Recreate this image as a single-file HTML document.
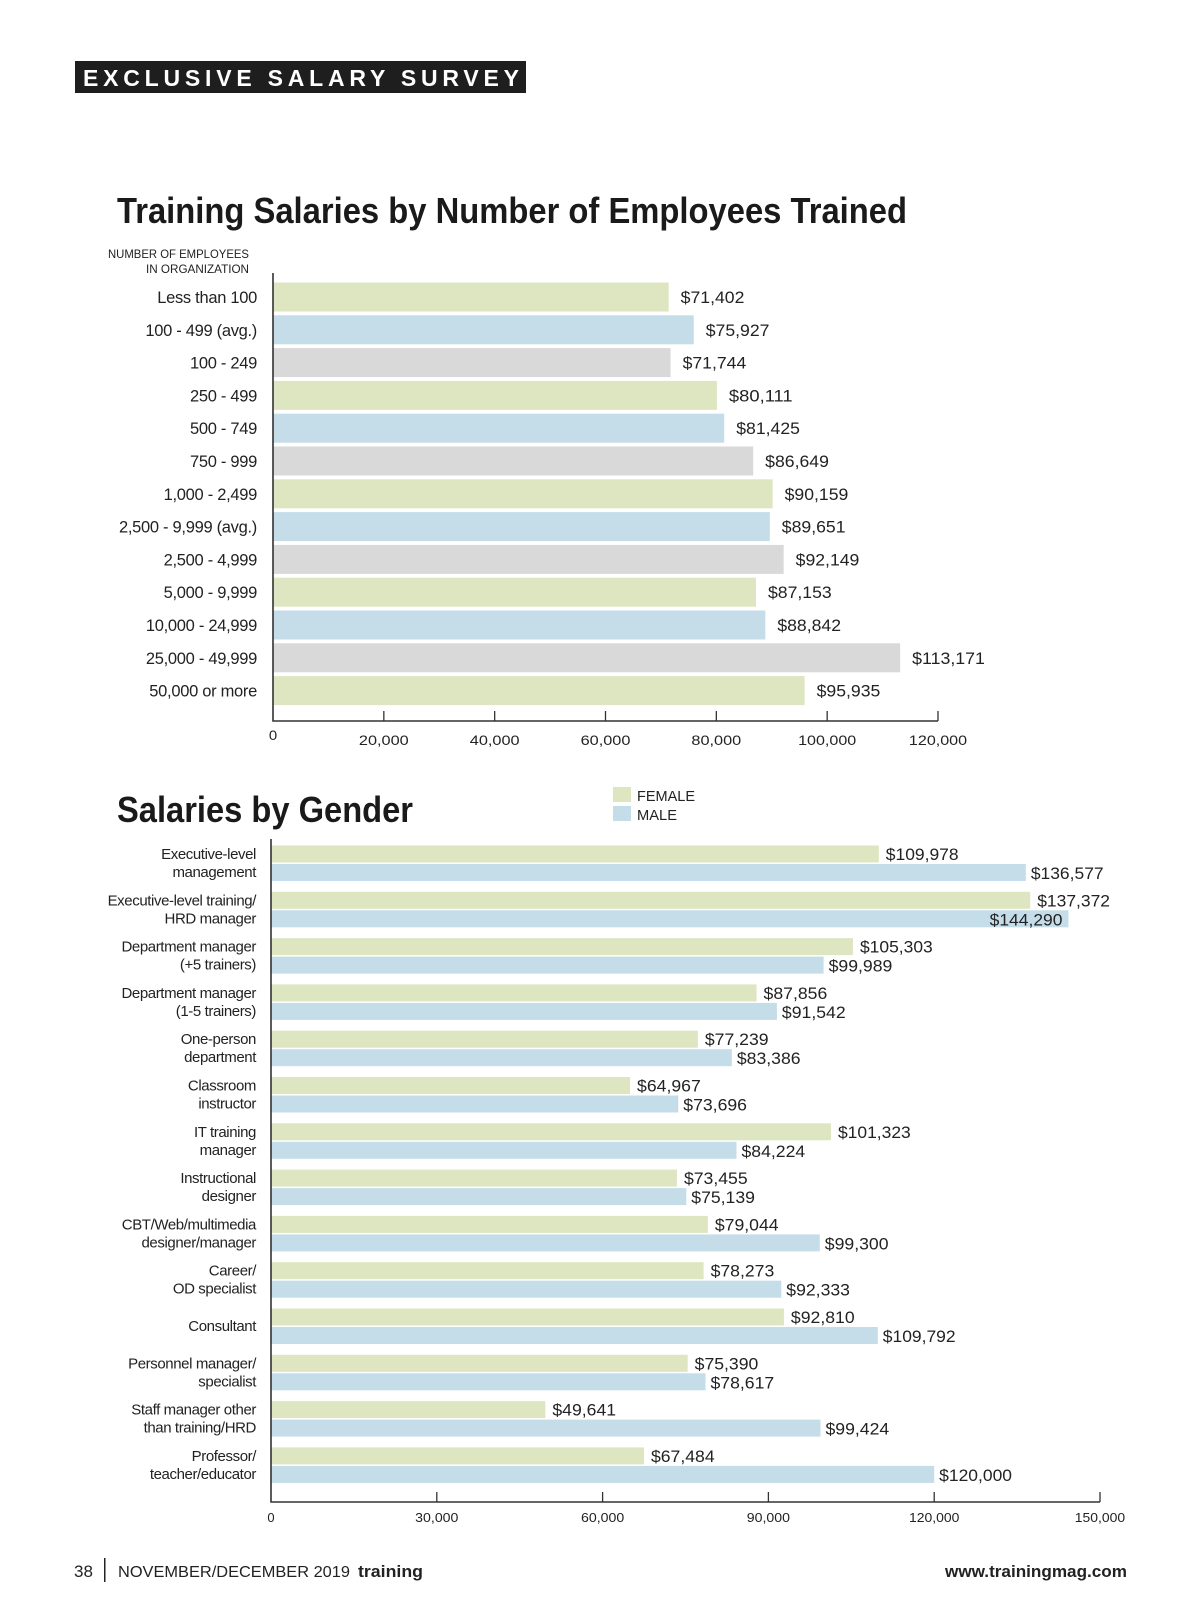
<!DOCTYPE html>
<html><head><meta charset="utf-8"><style>
html,body{margin:0;padding:0;background:#fff;}
svg{display:block;font-family:"Liberation Sans",sans-serif;}
</style></head><body>
<svg id="s" width="1200" height="1613" viewBox="0 0 1200 1613" xmlns="http://www.w3.org/2000/svg">
<rect x="75" y="61" width="451" height="32" fill="#1e1e1e"/>
<text x="83" y="86" fill="#fff" font-size="23" font-weight="bold" textLength="436" lengthAdjust="spacing">EXCLUSIVE SALARY SURVEY</text>
<text x="117" y="223" fill="#1a1a1a" font-size="36" font-weight="bold" textLength="790" lengthAdjust="spacingAndGlyphs">Training Salaries by Number of Employees Trained</text>
<text x="249" y="258" text-anchor="end" fill="#222" font-size="12" textLength="141" lengthAdjust="spacingAndGlyphs">NUMBER OF EMPLOYEES</text>
<text x="249" y="273" text-anchor="end" fill="#222" font-size="12" textLength="103" lengthAdjust="spacingAndGlyphs">IN ORGANIZATION</text>
<text x="117" y="822" fill="#1a1a1a" font-size="36" font-weight="bold" textLength="296" lengthAdjust="spacingAndGlyphs">Salaries by Gender</text>
<rect x="613" y="787" width="18" height="15" fill="#dde6c1"/>
<text x="637" y="801" font-size="15" fill="#222" textLength="58" lengthAdjust="spacingAndGlyphs">FEMALE</text>
<rect x="613" y="806" width="18" height="15" fill="#c4dde9"/>
<text x="637" y="820" font-size="15" fill="#222" textLength="40" lengthAdjust="spacingAndGlyphs">MALE</text>
<text x="74" y="1577" font-size="17" fill="#222">38</text>
<rect x="104" y="1558" width="1.5" height="24" fill="#222"/>
<text x="118" y="1577" font-size="16" fill="#222" textLength="232" lengthAdjust="spacingAndGlyphs">NOVEMBER/DECEMBER 2019</text>
<text x="358" y="1577" font-size="17" font-weight="bold" fill="#222" textLength="65" lengthAdjust="spacingAndGlyphs">training</text>
<text x="1127" y="1577" text-anchor="end" font-size="17" font-weight="bold" fill="#222" textLength="182" lengthAdjust="spacingAndGlyphs">www.trainingmag.com</text>
<g id="c1"></g><g id="c2"></g>
</svg>
<script>
const c1Categories = ["Less than 100","100 - 499 (avg.)","100 - 249","250 - 499","500 - 749","750 - 999","1,000 - 2,499","2,500 - 9,999 (avg.)","2,500 - 4,999","5,000 - 9,999","10,000 - 24,999","25,000 - 49,999","50,000 or more"];
const c1Values = [71402,75927,71744,80111,81425,86649,90159,89651,92149,87153,88842,113171,95935];
const c1Ticks = [0,20000,40000,60000,80000,100000,120000];
const c2Categories = [["Executive-level","management"],["Executive-level training/","HRD manager"],["Department manager","(+5 trainers)"],["Department manager","(1-5 trainers)"],["One-person","department"],["Classroom","instructor"],["IT training","manager"],["Instructional","designer"],["CBT/Web/multimedia","designer/manager"],["Career/","OD specialist"],["Consultant"],["Personnel manager/","specialist"],["Staff manager other","than training/HRD"],["Professor/","teacher/educator"]];
const c2Female = [109978,137372,105303,87856,77239,64967,101323,73455,79044,78273,92810,75390,49641,67484];
const c2Male = [136577,144290,99989,91542,83386,73696,84224,75139,99300,92333,109792,78617,99424,120000];
const c2Ticks = [0,30000,60000,90000,120000,150000];

const NS="http://www.w3.org/2000/svg";
function mk(parent,tag,attrs){const e=document.createElementNS(NS,tag);for(const k in attrs)e.setAttribute(k,attrs[k]);parent.appendChild(e);return e;}
function fmt(v){return v.toLocaleString("en-US");}

// Chart 1
const g1=document.getElementById("c1");
const x1=v=>273+v/120000*665;
const y1=i=>297+i*32.8;
const colors1=["#dde6c1","#c4dde9","#d9d9d9"];
c1Values.forEach((v,i)=>{
  const r=mk(g1,"rect",{x:x1(0),y:y1(i)-14.5,width:x1(v)-x1(0),height:29,fill:colors1[i%3]});
  
  
  const s="$"+fmt(v);
  const t=mk(g1,"text",{x:x1(v)+12,y:y1(i)+6,"font-size":17,fill:"#222",textLength:s.length*9.1,lengthAdjust:"spacingAndGlyphs"});t.textContent=s;
  
  
  const c=mk(g1,"text",{x:257,y:y1(i)+6,"text-anchor":"end","font-size":16.5,"letter-spacing":-0.3,fill:"#222"});c.textContent=c1Categories[i];
  
  
});
const ax1=mk(g1,"path",{d:"M273 273 V721 H938",stroke:"#333","stroke-width":1.6,fill:"none"});


c1Ticks.forEach((v,i)=>{
  if(v>0){const tk=mk(g1,"line",{x1:x1(v),x2:x1(v),y1:711,y2:721,stroke:"#333","stroke-width":1.3});
  
  }
  const s=fmt(v);
  const t=mk(g1,"text",{x:x1(v),y:v===0?740:745,"text-anchor":"middle","font-size":14,fill:"#222",textLength:s.length*8.3,lengthAdjust:"spacingAndGlyphs"});t.textContent=s;
  
  
});

// Chart 2
const g2=document.getElementById("c2");
const x2=v=>271+v/150000*829;
const yf=i=>854+i*46.3;
c2Female.forEach((v,i)=>{
  const f=mk(g2,"rect",{x:x2(0),y:yf(i)-8.5,width:x2(v)-x2(0),height:17,fill:"#dde6c1"});
  
  
  const m=c2Male[i];
  const mr=mk(g2,"rect",{x:x2(0),y:yf(i)+10,width:x2(m)-x2(0),height:17,fill:"#c4dde9"});
  
  
  const sf="$"+fmt(v), sm="$"+fmt(m);
  const tf=mk(g2,"text",{x:x2(v)+7,y:yf(i)+6,"font-size":17,fill:"#222",textLength:sf.length*9.1,lengthAdjust:"spacingAndGlyphs"});tf.textContent=sf;
  
  
  const inside = x2(m)+7+sm.length*9.1>1120;
  const tm=mk(g2,"text",{x:inside?x2(m)-6:x2(m)+5,y:yf(i)+25,"text-anchor":inside?"end":"start","font-size":17,fill:"#222",textLength:sm.length*9.1,lengthAdjust:"spacingAndGlyphs"});tm.textContent=sm;
  
  
  const lines=c2Categories[i];
  lines.forEach((ln,j)=>{
    const yy = lines.length===1 ? yf(i)+14 : yf(i)+5+j*18;
    const c=mk(g2,"text",{x:256,y:yy,"text-anchor":"end","font-size":15,"letter-spacing":-0.4,fill:"#222"});c.textContent=ln;
    
    
  });
});
const ax2=mk(g2,"path",{d:"M271 839 V1502 H1100",stroke:"#333","stroke-width":1.6,fill:"none"});


c2Ticks.forEach((v,i)=>{
  if(v>0){const tk=mk(g2,"line",{x1:x2(v),x2:x2(v),y1:1492,y2:1502,stroke:"#333","stroke-width":1.3});
  
  }
  const s=fmt(v);
  const t=mk(g2,"text",{x:x2(v),y:1522,"text-anchor":"middle","font-size":13,fill:"#222",textLength:s.length*7.2,lengthAdjust:"spacingAndGlyphs"});t.textContent=s;
  
  
});
</script>
</body></html>
